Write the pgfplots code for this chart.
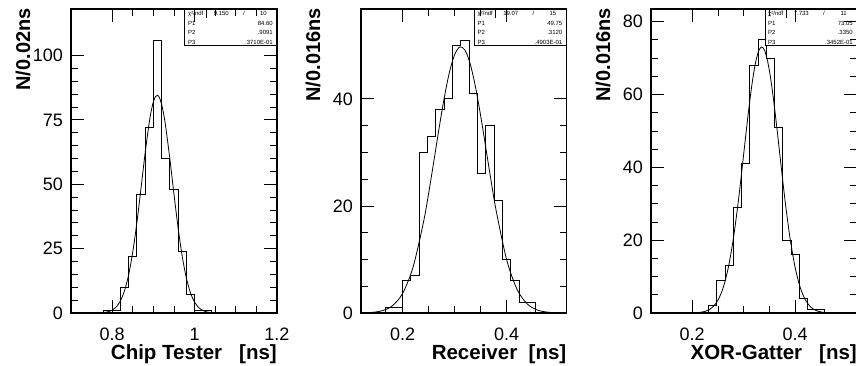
\documentclass[border=0pt]{standalone}
\usepackage{fontspec}
\setmainfont{Liberation Sans}
\usepackage{pgfplots}
\pgfplotsset{compat=1.18}

\newcommand{\statfont}{\fontsize{6}{6}\selectfont}
\newcommand{\statbox}[6]{%
  \draw[line width=1pt, fill=white] ([xshift=-92pt]rel axis cs:1,1) rectangle ([yshift=-37pt]rel axis cs:1,1);
  \draw[line width=0.8pt] ([xshift=-71pt]rel axis cs:1,1) -- ([xshift=-71pt,yshift=-9pt]rel axis cs:1,1);
  \node[anchor=west, inner sep=0pt, font=\statfont] at ([xshift=-89pt,yshift=-4.5pt]rel axis cs:1,1) {χ²/ndf};
  \node[anchor=east, inner sep=0pt, font=\statfont] at ([xshift=-48pt,yshift=-4.5pt]rel axis cs:1,1) {#1};
  \node[inner sep=0pt, font=\statfont] at ([xshift=-33pt,yshift=-4.5pt]rel axis cs:1,1) {/};
  \node[anchor=east, inner sep=0pt, font=\statfont] at ([xshift=-10pt,yshift=-4.5pt]rel axis cs:1,1) {#2};
  \node[anchor=west, inner sep=0pt, font=\statfont] at ([xshift=-89pt,yshift=-14pt]rel axis cs:1,1) {P1};
  \node[anchor=east, inner sep=0pt, font=\statfont] at ([xshift=-4pt,yshift=-14pt]rel axis cs:1,1) {#3};
  \node[anchor=west, inner sep=0pt, font=\statfont] at ([xshift=-89pt,yshift=-23.5pt]rel axis cs:1,1) {P2};
  \node[anchor=east, inner sep=0pt, font=\statfont] at ([xshift=-4pt,yshift=-23.5pt]rel axis cs:1,1) {#4};
  \node[anchor=west, inner sep=0pt, font=\statfont] at ([xshift=-89pt,yshift=-33pt]rel axis cs:1,1) {P3};
  \node[anchor=east, inner sep=0pt, font=\statfont] at ([xshift=-4pt,yshift=-33pt]rel axis cs:1,1) {#5};
  \node[rotate=90, anchor=base east, inner sep=0pt, font=\bfseries\fontsize{20}{20}\selectfont] at ([xshift=-41pt,yshift=1pt]rel axis cs:0,1) {#6};
}

\pgfplotsset{
  panel/.style={
    scale only axis, width=206pt, height=304pt, anchor=south west,
    axis on top, clip mode=individual,
    tick align=inside, xtick pos=both, ytick pos=both,
    major tick length=13pt, minor tick length=7pt,
    axis line style={line width=1.1pt},
    tick style={line width=0.9pt, black},
    minor tick style={line width=0.9pt, black},
    ymin=0,
    /pgf/number format/assume math mode=true,
    tick label style={font=\fontsize{18}{18}\selectfont, inner sep=0pt},
    xticklabel style={anchor=base, yshift=-28pt},
    yticklabel style={anchor=east, xshift=-8pt},
    xlabel style={at={(rel axis cs:1,0)}, anchor=base east, inner sep=0pt, yshift=-47pt, font=\bfseries\fontsize{20.5}{20.5}\selectfont},
  },
  hist/.style={const plot, black, line width=1pt, mark=none},
  gauss/.style={black, line width=0.8pt, mark=none, smooth, tension=0.5},
}

\begin{document}
\begin{tikzpicture}

% Panel 1: Chip Tester
\begin{axis}[panel, at={(71pt,53pt)},
  xmin=0.7, xmax=1.2, ymax=118.1,
  xtick={0.8,1,1.2}, xticklabels={0.8,1,1.2},
  minor x tick num=3,
  ytick={0,25,50,75,100}, yticklabels={0,25,50,75,100},
  minor y tick num=4,
  xlabel={Chip Tester\hspace{0.83em}[ns]},
]
\addplot[hist] coordinates {(0.78,0) (0.78,1) (0.80,1) (0.82,10) (0.84,22) (0.86,46) (0.88,72) (0.90,106) (0.92,60) (0.94,48) (0.96,24) (0.98,7) (1.00,1) (1.02,1) (1.04,0)};
\addplot[gauss] coordinates {(0.78,0.199) (0.79,0.489) (0.80,1.121) (0.81,2.389) (0.82,4.731) (0.83,8.715) (0.84,14.93) (0.85,23.79) (0.86,35.24) (0.87,48.55) (0.88,62.20) (0.89,74.10) (0.895,78.71) (0.90,82.09) (0.905,84.08) (0.91,84.58) (0.915,83.54) (0.92,81.03) (0.925,77.18) (0.93,72.19) (0.94,59.81) (0.95,46.08) (0.96,33.01) (0.97,21.99) (0.98,13.63) (0.99,7.850) (1.00,4.205) (1.01,2.095) (1.02,0.971) (1.03,0.418) (1.04,0.168) (1.05,0.062)};
\statbox{9.150}{10}{84.60}{.9091}{.3710E-01}{N/0.02ns}
\end{axis}

% Panel 2: Receiver
\begin{axis}[panel, at={(361pt,53pt)}, width=205.5pt,
  xmin=0.12, xmax=0.515, ymax=56.8,
  xtick={0.2,0.4}, xticklabels={0.2,0.4},
  minor x tick num=3,
  ytick={0,20,40}, yticklabels={0,20,40},
  minor y tick num=3,
  xlabel={Receiver\hspace{0.56em}[ns]},
]
\addplot[hist] coordinates {(0.168,0) (0.168,1) (0.184,1) (0.2,6) (0.216,7) (0.232,30) (0.248,33) (0.264,38) (0.28,40) (0.296,50) (0.312,51) (0.328,41) (0.344,26) (0.36,35) (0.376,21) (0.392,10) (0.408,6) (0.424,2) (0.44,2) (0.456,0)};
\addplot[gauss] coordinates {(0.12,0.0233) (0.14,0.106) (0.16,0.407) (0.18,1.327) (0.20,3.661) (0.22,8.555) (0.24,16.92) (0.25,22.36) (0.26,28.35) (0.27,34.47) (0.28,40.21) (0.29,44.99) (0.30,48.28) (0.31,49.71) (0.32,49.09) (0.33,46.51) (0.34,42.26) (0.35,36.84) (0.36,30.81) (0.37,24.71) (0.38,19.02) (0.40,9.938) (0.42,4.396) (0.44,1.647) (0.46,0.5226) (0.48,0.1404) (0.50,0.0319) (0.515,0.0094)};
\statbox{19.07}{15}{49.75}{.3120}{.4903E-01}{N/0.016ns}
\end{axis}

% Panel 3: XOR-Gatter
\begin{axis}[panel, at={(651pt,53pt)}, width=206pt,
  xmin=0.12, xmax=0.52, ymax=83.5,
  xtick={0.2,0.4}, xticklabels={0.2,0.4},
  minor x tick num=3,
  ytick={0,20,40,60,80}, yticklabels={0,20,40,60,80},
  minor y tick num=3,
  xlabel={XOR-Gatter\hspace{0.83em}[ns]},
]
\addplot[hist] coordinates {(0.232,0) (0.232,2) (0.248,9) (0.264,13) (0.28,29) (0.296,41) (0.312,68) (0.328,75) (0.344,70) (0.36,51) (0.376,20) (0.392,16) (0.408,4) (0.424,1) (0.44,1) (0.456,0)};
\addplot[gauss] coordinates {(0.20,0.0349) (0.21,0.1038) (0.22,0.2843) (0.23,0.7157) (0.24,1.656) (0.25,3.524) (0.26,6.896) (0.27,12.41) (0.28,20.53) (0.29,31.23) (0.30,43.69) (0.305,50.07) (0.31,56.20) (0.315,61.76) (0.32,66.47) (0.325,70.05) (0.33,72.29) (0.335,73.05) (0.34,72.29) (0.345,70.05) (0.35,66.47) (0.355,61.76) (0.36,56.20) (0.365,50.07) (0.37,43.69) (0.38,31.23) (0.39,20.53) (0.40,12.41) (0.41,6.896) (0.42,3.524) (0.43,1.656) (0.44,0.7157) (0.45,0.2843) (0.46,0.1038) (0.47,0.0349) (0.48,0.0108)};
\statbox{7.733}{11}{73.05}{.3350}{.3452E-01}{N/0.016ns}
\end{axis}

\pgfresetboundingbox
\useasboundingbox (0,0) rectangle (856pt,366pt);
\end{tikzpicture}
\end{document}
